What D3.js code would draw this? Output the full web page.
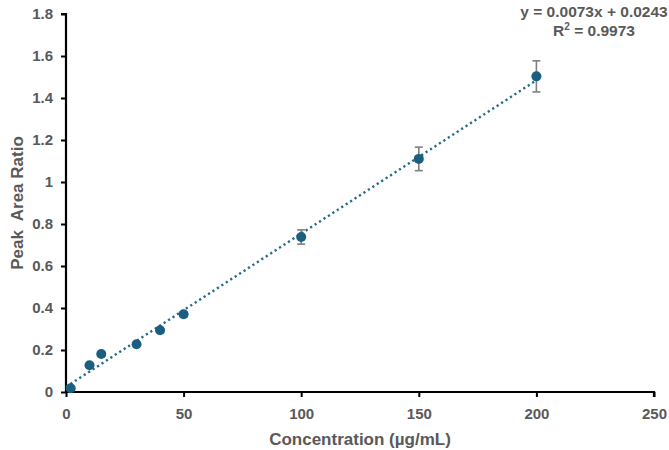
<!DOCTYPE html>
<html lang="en">
<head>
<meta charset="utf-8">
<title>Calibration curve</title>
<script src="https://d3js.org/d3.v7.min.js"></script>
<style>
  body { margin: 0; background: #fff; }
  svg { display: block; }
  .tick text { font-family: "Liberation Sans", Arial, sans-serif; font-size: 15px; font-weight: bold; fill: #595959; }
  .axis-title { font-family: "Liberation Sans", Arial, sans-serif; font-size: 17px; font-weight: bold; fill: #595959; }
  .eq { font-family: "Liberation Sans", Arial, sans-serif; font-size: 15.5px; font-weight: bold; fill: #595959; }
</style>
</head>
<body>
<svg width="669" height="450"></svg>
<script>
// data
const concentrations = [2, 10, 15, 30, 40, 50, 100, 150, 200];
const peakRatios = [0.018, 0.127, 0.181, 0.227, 0.294, 0.370, 0.738, 1.110, 1.503];
const errors = [0.005, 0.006, 0.008, 0.008, 0.009, 0.012, 0.034, 0.056, 0.074];
const xTicks = [0, 50, 100, 150, 200, 250];
const yTicks = [0, 0.2, 0.4, 0.6, 0.8, 1, 1.2, 1.4, 1.6, 1.8];
const slope = 0.0073, intercept = 0.0243;

const svg = d3.select("svg");
const x = d3.scaleLinear().domain([0, 250]).range([66, 654]);
const y = d3.scaleLinear().domain([0, 1.8]).range([392, 14]);

const pts = concentrations.map((c, i) => ({c: c, v: peakRatios[i], e: errors[i]}));

// axes
const xAxis = svg.append("g")
  .attr("transform", "translate(0," + y(0) + ")")
  .call(d3.axisBottom(x).tickValues(xTicks).tickSize(5).tickPadding(11));
const yAxis = svg.append("g")
  .attr("transform", "translate(" + x(0) + ",0)")
  .call(d3.axisLeft(y).tickValues(yTicks).tickSize(5).tickPadding(8).tickFormat(d3.format("~g")));
[xAxis, yAxis].forEach(a => {
  a.select(".domain").attr("stroke", "#000").attr("stroke-width", 2.2);
  a.selectAll(".tick line").attr("stroke", "#000").attr("stroke-width", 2);
});
yAxis.select(".domain").attr("d", "M-5," + y(1.8) + "H0V" + y(0));
xAxis.select(".domain").attr("d", "M" + x(0) + ",0H" + x(250) + "V5");

// trendline
svg.append("line")
  .attr("x1", x(0)).attr("y1", y(intercept))
  .attr("x2", x(200)).attr("y2", y(slope * 200 + intercept))
  .attr("stroke", "#226b8b").attr("stroke-width", 2.4)
  .attr("stroke-dasharray", "2.2,3.1").attr("stroke-linecap", "butt");

// error bars
const eb = svg.append("g").attr("stroke", "#7f7f7f").attr("stroke-width", 1.6);
eb.selectAll(".v").data(pts).enter().append("line")
  .attr("x1", d => x(d.c)).attr("x2", d => x(d.c))
  .attr("y1", d => y(d.v - d.e)).attr("y2", d => y(d.v + d.e));
eb.selectAll(".t").data(pts).enter().append("line")
  .attr("x1", d => x(d.c) - 4).attr("x2", d => x(d.c) + 4)
  .attr("y1", d => y(d.v + d.e)).attr("y2", d => y(d.v + d.e));
eb.selectAll(".b").data(pts).enter().append("line")
  .attr("x1", d => x(d.c) - 4).attr("x2", d => x(d.c) + 4)
  .attr("y1", d => y(d.v - d.e)).attr("y2", d => y(d.v - d.e));

// points
svg.selectAll("circle").data(pts).enter().append("circle")
  .attr("cx", d => x(d.c)).attr("cy", d => y(d.v))
  .attr("r", 5).attr("fill", "#1b5f80");

// titles
svg.append("text").attr("class", "axis-title")
  .attr("x", (x(0) + x(250)) / 2).attr("y", 445)
  .attr("text-anchor", "middle").text("Concentration (µg/mL)");
svg.append("text").attr("class", "axis-title")
  .attr("transform", "translate(23," + (y(0.9)) + ") rotate(-90)")
  .attr("text-anchor", "middle").attr("xml:space", "preserve").text("Peak  Area Ratio");

// equation
svg.append("text").attr("class", "eq")
  .attr("x", 594).attr("y", 17).attr("text-anchor", "middle")
  .text("y = " + slope + "x + " + intercept);
const r2 = svg.append("text").attr("class", "eq")
  .attr("x", 594).attr("y", 36).attr("text-anchor", "middle");
r2.append("tspan").text("R");
r2.append("tspan").attr("dy", -6).attr("font-size", 10).text("2");
r2.append("tspan").attr("dy", 6).text(" = 0.9973");
</script>
</body>
</html>
